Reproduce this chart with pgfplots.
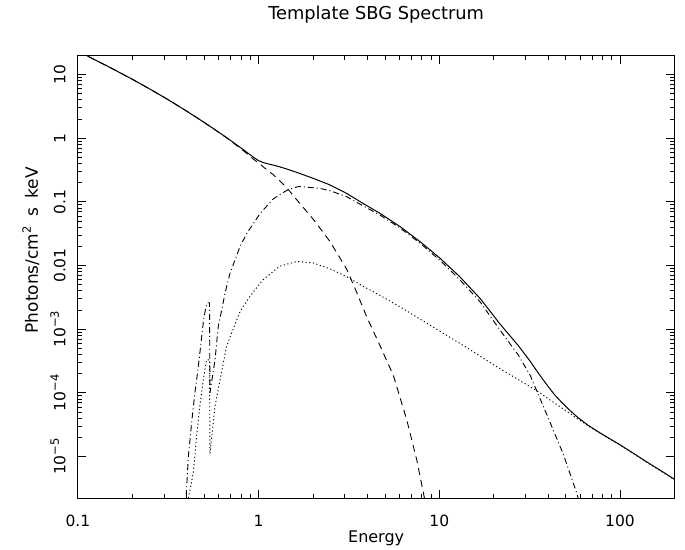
\documentclass[border=0pt]{standalone}
\usepackage{fontspec}
\setmainfont{DejaVu Sans}
\usepackage{pgfplots}
\pgfplotsset{compat=1.18}
\newcommand\sups[1]{\raisebox{0.42em}{\fontsize{11.5bp}{12bp}\selectfont #1}}
\begin{document}
\begin{tikzpicture}
\useasboundingbox (-77.9bp,-50.7bp) rectangle (607.1bp,498.4bp);
\begin{axis}[
  at={(0,0)}, anchor=south west,
  scale only axis, width=596.5bp, height=443bp,
  xmode=log, ymode=log,
  xmin=0.1, xmax=200, ymin=2.2e-6, ymax=20,
  axis line style={line width=0.9bp},
  tick style={line width=0.8bp, black},
  major tick length=8.3bp, minor tick length=4.2bp,
  tick align=inside,
  xtick={0.1,1,10,100}, xticklabels={0.1,1,10,100},
  ytick={1e-5,1e-4,1e-3,0.01,0.1,1,10},
  yticklabels={10\sups{−5},10\sups{−4},10\sups{−3},0.01,0.1,1,10},
  tick label style={font=\fontsize{15.5bp}{18bp}\selectfont},
  xticklabel style={anchor=base, yshift=-28.5bp},
  yticklabel style={xshift=-12.5bp, rotate=90, anchor=base},
  xlabel={Energy},
  xlabel style={font=\fontsize{16bp}{18bp}\selectfont, at={(axis description cs:0.5,-0.0993)}, anchor=base},
  ylabel={Photons/cm\sups{2}\hspace{0.55em}s\hspace{0.55em}keV},
  ylabel style={font=\fontsize{17bp}{19bp}\selectfont, at={(axis description cs:-0.067,0.56)}, anchor=base},
  title={Template SBG Spectrum},
  title style={font=\fontsize{17.8bp}{20bp}\selectfont, at={(axis description cs:0.5,1.0686)}, anchor=base},
]
% total model (solid)
\addplot[black, line width=1bp] coordinates {
(0.10,23.3) (0.112,19.8) (0.15,13.0) (0.2,8.44) (0.25,5.93) (0.303,4.32) (0.35,3.37)
(0.4,2.66) (0.45,2.15) (0.5,1.77) (0.574,1.36) (0.65,1.07) (0.7,0.922) (0.8,0.701)
(0.9,0.547) (0.935,0.505) (1.0,0.445) (1.06,0.415) (1.13,0.395) (1.2,0.38) (1.31,0.355)
(1.45,0.325) (1.63,0.29) (2.0,0.235) (2.48,0.185) (3.07,0.136) (3.8,0.094) (4.7,0.066)
(6.06,0.041) (7.82,0.0238) (10.1,0.0130) (12.9,0.0068) (15,0.0043) (16.8,0.00305)
(19,0.00196) (21.5,0.00124) (24.5,0.00080) (27.4,0.00055) (31.8,0.000315) (35.5,0.000200)
(39.3,0.000135) (43.5,0.000093) (48.5,0.000067) (53,0.0000525) (57.5,0.0000427)
(66,0.0000315) (73,0.0000262) (85,0.0000201) (100,0.0000153) (120,0.0000110)
(140,0.0000083) (170,0.0000059) (200,0.0000044)
};
% thermal component (dashed)
\addplot[black, line width=0.9bp, dash pattern=on 7bp off 5bp] coordinates {
(0.10,23.3) (0.112,19.8) (0.15,13.0) (0.2,8.44) (0.25,5.93) (0.303,4.32) (0.35,3.37)
(0.4,2.66) (0.45,2.15) (0.5,1.77) (0.574,1.36) (0.65,1.06) (0.7,0.91) (0.8,0.68)
(0.9,0.52) (0.935,0.47) (1.0,0.41) (1.06,0.355) (1.2,0.27) (1.31,0.215) (1.45,0.16)
(1.63,0.107) (2.01,0.053) (2.48,0.024) (3.07,0.0088) (3.49,0.0038) (3.96,0.00158)
(4.7,0.00055) (5.56,0.00019) (6.6,0.000038) (7.5,0.0000089) (8.4,0.0000018)
};
% cutoff power law (dash-dot)
\addplot[black, line width=0.9bp, dash pattern=on 6bp off 3bp on 1bp off 3bp] coordinates {
(0.39,0.0000015) (0.397,0.0000022) (0.408,0.0000095) (0.426,0.000034) (0.444,0.0001)
(0.464,0.00026) (0.494,0.00126) (0.51,0.0022) (0.52,0.0026) (0.535,0.0026) (0.538,0.0001)
(0.574,0.00033) (0.598,0.0011) (0.625,0.002) (0.652,0.0037) (0.695,0.0076) (0.79,0.020)
(0.86,0.032) (1.02,0.066) (1.20,0.11) (1.31,0.13) (1.45,0.155) (1.67,0.175) (2.18,0.163)
(2.48,0.150) (3.07,0.121) (3.8,0.086) (4.7,0.062) (6.06,0.039) (7.82,0.0225) (10.1,0.012)
(12.9,0.0061) (16.8,0.00270) (21.5,0.00100) (27.4,0.00039) (31.8,0.00019) (35.5,0.000091)
(39.3,0.000046) (43.5,0.000023) (48.5,0.000011) (57.5,0.0000027) (60,0.0000018)
};
% absorbed power law (dotted)
\addplot[black, line width=0.9bp, dash pattern=on 1.2bp off 2.5bp] coordinates {
(0.40,0.0000015) (0.408,0.0000022) (0.435,0.0000055) (0.454,0.000021) (0.473,0.000062)
(0.494,0.00016) (0.515,0.00033) (0.535,0.00033) (0.538,0.000011) (0.574,0.000062)
(0.612,0.00016) (0.665,0.00054) (0.757,0.0014) (0.79,0.0019) (0.897,0.0033) (1.02,0.0053)
(1.06,0.0060) (1.31,0.0098) (1.63,0.0116) (2.01,0.0110) (2.5,0.0088) (3.07,0.0067)
(3.8,0.0047) (4.7,0.0034) (6.06,0.00225) (9.25,0.00108) (14.1,0.00052) (19.8,0.00028)
(24.5,0.000195) (27.4,0.000161) (34.6,0.000108) (43.5,0.000069) (48.5,0.000056)
(57.5,0.000040) (66,0.0000310) (73,0.0000257) (85,0.0000199) (100,0.0000152)
(120,0.0000109) (140,0.0000082) (170,0.0000058) (200,0.0000043)
};
\end{axis}
\end{tikzpicture}
\end{document}
